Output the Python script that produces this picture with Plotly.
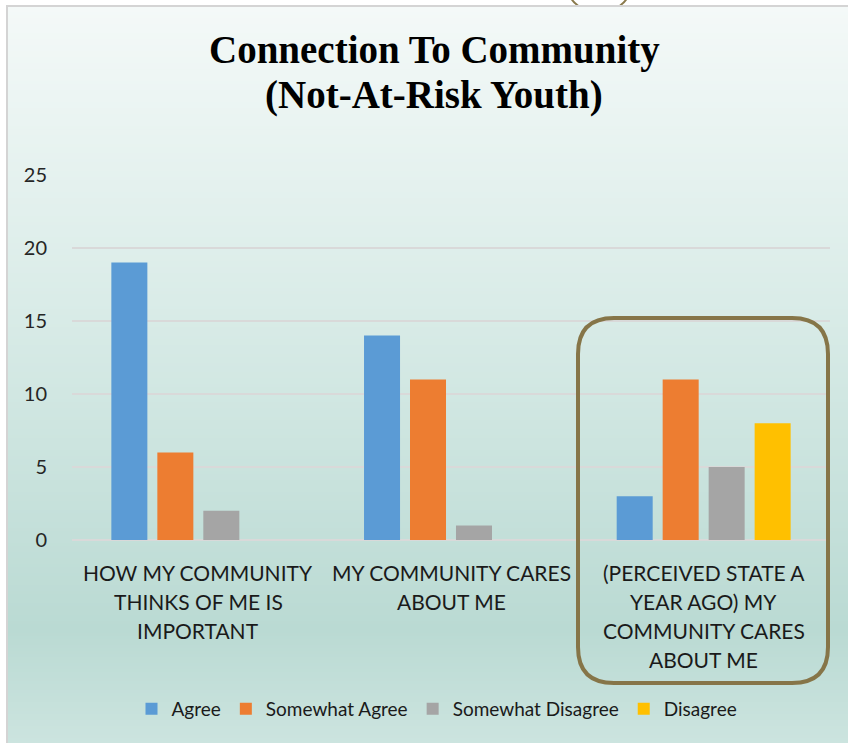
import plotly.graph_objects as go

# --- data ---
categories = [
    "HOW MY COMMUNITY THINKS OF ME IS IMPORTANT",
    "MY COMMUNITY CARES ABOUT ME",
    "(PERCEIVED STATE A YEAR AGO) MY COMMUNITY CARES ABOUT ME",
]
category_lines = [
    ["HOW MY COMMUNITY", "THINKS OF ME IS", "IMPORTANT"],
    ["MY COMMUNITY CARES", "ABOUT ME"],
    ["(PERCEIVED STATE A", "YEAR AGO) MY", "COMMUNITY CARES", "ABOUT ME"],
]
series_names = ["Agree", "Somewhat Agree", "Somewhat Disagree", "Disagree"]
agree = [19, 14, 3]
somewhat_agree = [6, 11, 11]
somewhat_disagree = [2, 1, 5]
disagree = [0, 0, 8]
y_ticks = [0, 5, 10, 15, 20, 25]

series_values = [agree, somewhat_agree, somewhat_disagree, disagree]
series_colors = ["#5b9bd5", "#ed7d31", "#a5a5a5", "#ffc000"]

W, H = 848, 743
L, R, T, B = 72, 18, 175, 203
PW, PH = W - L - R, H - T - B


def px(x):
    return (x - L) / PW


def py(y):
    return (H - B - y) / PH


fig = go.Figure()
for name, vals, col in zip(series_names, series_values, series_colors):
    fig.add_trace(go.Bar(
        name=name, x=categories, y=vals,
        marker=dict(color=col, line=dict(width=0)),
    ))

shapes = []
# partial rounded outline peeking above the chart panel
shapes.append(dict(type="circle", xref="paper", yref="paper", layer="below",
                   x0=px(569), x1=px(629), y0=py(12), y1=py(-32),
                   line=dict(color="#8a7a4c", width=2), fillcolor="rgba(0,0,0,0)"))

# vertical gradient panel
stops = [(6, (244, 249, 248)), (300, (218, 236, 232)), (630, (186, 218, 211)), (743, (204, 228, 223))]


def col_at(y):
    for (y0, c0), (y1, c1) in zip(stops[:-1], stops[1:]):
        if y0 <= y <= y1:
            t = (y - y0) / (y1 - y0)
            return tuple(round(a + (b - a) * t) for a, b in zip(c0, c1))
    return stops[-1][1]


step = 3
y = 6
while y < H:
    c = col_at(y + step / 2)
    shapes.append(dict(type="rect", xref="paper", yref="paper", layer="below",
                       x0=px(7), x1=px(W + 2), y0=py(min(y + step + 0.6, H + 2)), y1=py(y),
                       line=dict(width=0), fillcolor="rgb(%d,%d,%d)" % c))
    y += step

# panel border (left and top)
shapes.append(dict(type="path", xref="paper", yref="paper", layer="below",
                   path="M %f %f L %f %f L %f %f" % (px(7), py(H + 2), px(7), py(6), px(W + 2), py(6)),
                   line=dict(color="#d4d4d4", width=2)))

# rounded highlight frame around the third group
x0, x1, y0, y1, r = 578, 828, 318, 683, 36
rx, ry = r / PW, r / PH
X0, X1, Y0, Y1 = px(x0), px(x1), py(y0), py(y1)
path = (f"M {X0+rx} {Y0} L {X1-rx} {Y0} Q {X1} {Y0} {X1} {Y0-ry} "
        f"L {X1} {Y1+ry} Q {X1} {Y1} {X1-rx} {Y1} "
        f"L {X0+rx} {Y1} Q {X0} {Y1} {X0} {Y1+ry} "
        f"L {X0} {Y0-ry} Q {X0} {Y0} {X0+rx} {Y0} Z")
shapes.append(dict(type="path", xref="paper", yref="paper", layer="above", path=path,
                   line=dict(color="#867548", width=4), fillcolor="rgba(0,0,0,0)"))

annotations = [
    dict(text="<b>Connection To Community</b>", xref="paper", yref="paper",
         x=px(434), y=py(50), xanchor="center", yanchor="middle", showarrow=False,
         font=dict(family="Liberation Serif", size=39, color="#000000")),
    dict(text="<b>(Not-At-Risk Youth)</b>", xref="paper", yref="paper",
         x=px(434), y=py(95), xanchor="center", yanchor="middle", showarrow=False,
         font=dict(family="Liberation Serif", size=39, color="#000000")),
]
# category labels, one line per annotation
for cat, lines in zip(categories, category_lines):
    for i, line in enumerate(lines):
        annotations.append(dict(
            text=line, xref="x", yref="paper", x=cat, y=py(572 + 29 * i),
            xanchor="center", yanchor="middle", showarrow=False,
            font=dict(family="Lato", size=21, color="#1a1a1a"),
        ))

fig.update_layout(
    width=W, height=H,
    margin=dict(l=L, r=R, t=T, b=B, pad=0),
    paper_bgcolor="white",
    plot_bgcolor="rgba(0,0,0,0)",
    barmode="group",
    bargap=0.272,
    bargroupgap=0.217,
    shapes=shapes,
    annotations=annotations,
    font=dict(family="Lato", color="#262626"),
    legend=dict(
        orientation="h", x=437 / W, xref="container", xanchor="center",
        y=1 - 709 / H, yref="container", yanchor="middle",
        font=dict(family="Lato", size=19, color="#1a1a1a"),
        bgcolor="rgba(0,0,0,0)", traceorder="normal",
        itemwidth=30,
    ),
    showlegend=True,
)
fig.update_xaxes(
    showgrid=False, showline=False, zeroline=False, ticks="",
    showticklabels=False,
)
fig.update_yaxes(
    range=[0, 25], tickvals=y_ticks,
    showgrid=True, gridcolor="#d9d9d9", gridwidth=1.5,
    zeroline=True, zerolinecolor="#d9d9d9", zerolinewidth=1.5,
    showline=False, ticks="",
    tickfont=dict(family="Lato", size=20, color="#262626"),
    ticklabelstandoff=24,
)

fig.write_html("out.html")
